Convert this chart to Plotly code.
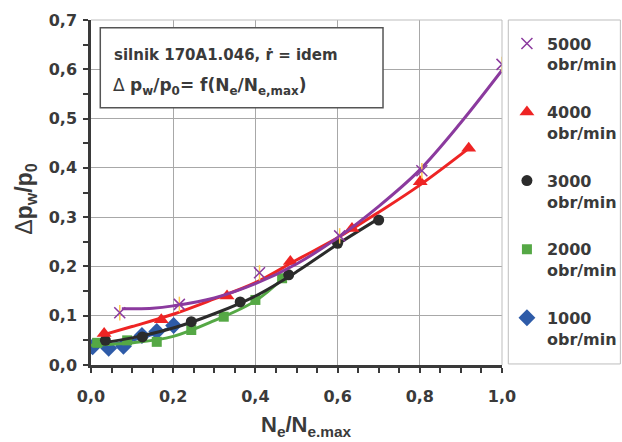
import plotly.graph_objects as go

# ---- data ----
x5000 = [0.07, 0.215, 0.41, 0.605, 0.805, 1.0]
y5000 = [0.106, 0.123, 0.187, 0.262, 0.394, 0.61]
x4000 = [0.032, 0.171, 0.331, 0.485, 0.635, 0.801, 0.919]
y4000 = [0.064, 0.092, 0.140, 0.210, 0.277, 0.372, 0.440]
x3000 = [0.035, 0.125, 0.244, 0.363, 0.481, 0.600, 0.700]
y3000 = [0.050, 0.057, 0.088, 0.128, 0.183, 0.247, 0.294]
x2000 = [0.015, 0.088, 0.160, 0.244, 0.323, 0.400, 0.465]
y2000 = [0.045, 0.050, 0.047, 0.071, 0.098, 0.132, 0.176]
x1000 = [0.004, 0.043, 0.079, 0.124, 0.160, 0.201]
y1000 = [0.037, 0.034, 0.038, 0.060, 0.068, 0.080]

# trend curves
tx5000 = [0.075, 0.1, 0.15, 0.2, 0.3, 0.4, 0.5, 0.6, 0.7, 0.8, 0.9, 1.0]
ty5000 = [0.114, 0.114, 0.115, 0.12, 0.136, 0.165, 0.205, 0.258, 0.322, 0.396, 0.492, 0.598]
tx4000 = [0.025, 0.1, 0.2, 0.3, 0.4, 0.5, 0.6, 0.7, 0.8, 0.92]
ty4000 = [0.060, 0.078, 0.103, 0.134, 0.167, 0.213, 0.258, 0.310, 0.365, 0.440]
tx3000 = [0.03, 0.1, 0.2, 0.3, 0.4, 0.5, 0.6, 0.7]
ty3000 = [0.045, 0.055, 0.075, 0.104, 0.140, 0.189, 0.245, 0.297]
tx2000 = [0.0, 0.1, 0.2, 0.3, 0.4, 0.47]
ty2000 = [0.040, 0.045, 0.058, 0.090, 0.130, 0.178]
tx1000 = [0.0, 0.05, 0.1, 0.15, 0.2]
ty1000 = [0.040, 0.042, 0.050, 0.062, 0.078]

names = ["<b>5000<br>obr/min</b>", "<b>4000<br>obr/min</b>", "<b>3000<br>obr/min</b>",
         "<b>2000<br>obr/min</b>", "<b>1000<br>obr/min</b>"]
colors = ["#8B3A9E", "#EE2424", "#2B2B2B", "#55A845", "#2E5BA8"]
symbols = ["x-thin-open", "triangle-up", "circle", "square", "diamond"]
sizes = [11, 13, 11, 10, 13]

series = [(x5000, y5000, tx5000, ty5000), (x4000, y4000, tx4000, ty4000),
          (x3000, y3000, tx3000, ty3000), (x2000, y2000, tx2000, ty2000),
          (x1000, y1000, tx1000, ty1000)]

FONT = "Arial, 'Liberation Sans', sans-serif"
WFONT = "'DejaVu Sans', Verdana, sans-serif"
TXT = "#3A3A3A"

fig = go.Figure()
for i in reversed(range(5)):
    mx, my, lx, ly = series[i]
    fig.add_trace(go.Scatter(x=lx, y=ly, mode="lines", line=dict(color=colors[i], width=3, shape="spline"),
                             showlegend=False, hoverinfo="skip"))
    if i == 0:
        fig.add_trace(go.Scatter(x=mx, y=my, mode="markers", showlegend=False,
                                 marker=dict(symbol="line-ns-open", size=11, line=dict(color=colors[i], width=1.5))))
    mk = dict(symbol=symbols[i], size=sizes[i], color=colors[i])
    if i == 0:
        mk["line"] = dict(color=colors[i], width=1.5)
    fig.add_trace(go.Scatter(x=mx, y=my, mode="markers", name=names[i], marker=mk,
                             legendgroup=str(i), legendrank=i + 1))

fig.update_layout(
    width=622, height=442,
    margin=dict(l=91, r=120, t=20, b=77, autoexpand=False),
    paper_bgcolor="white", plot_bgcolor="white",
    separators=", ",
    font=dict(family=FONT, color=TXT),
    showlegend=True,
    legend=dict(x=0.815, xref="container", xanchor="left", y=0.94, yref="container", yanchor="top",
                font=dict(family=WFONT, size=16, color=TXT),
                borderwidth=0, bgcolor="rgba(0,0,0,0)",
                valign="top", traceorder="grouped", tracegroupgap=24,
                itemwidth=30, maxheight=430),
    xaxis=dict(range=[0, 1.0], dtick=0.2, tickformat=".1f", showgrid=True, gridcolor="#A8A8A8", gridwidth=1,
               showline=True, linecolor="#3A3A3A", linewidth=2.5, ticks="outside", ticklen=5, tickwidth=2,
               tickcolor="#3A3A3A", zeroline=False,
               tickfont=dict(family=WFONT, size=16, color=TXT, weight="bold"), ticklabelstandoff=10,
               minor=dict(dtick=0.05, ticks="outside", ticklen=5, tickwidth=2, tickcolor="#3A3A3A", showgrid=False)),
    yaxis=dict(range=[0, 0.7], dtick=0.1, tickformat=".1f", showgrid=True, gridcolor="#A8A8A8", gridwidth=1,
               showline=True, linecolor="#3A3A3A", linewidth=2.5, ticks="outside", ticklen=5, tickwidth=2,
               tickcolor="#3A3A3A", zeroline=False,
               tickfont=dict(family=WFONT, size=16, color=TXT, weight="bold"), ticklabelstandoff=3,
               minor=dict(dtick=0.05, ticks="outside", ticklen=5, tickwidth=2, tickcolor="#3A3A3A", showgrid=False)),
)

# plot frame top/right
fig.add_shape(type="line", xref="paper", yref="paper", x0=0, x1=1, y0=1, y1=1, line=dict(color="#BDBDBD", width=1))
fig.add_shape(type="line", xref="paper", yref="paper", x0=1, x1=1, y0=0, y1=1, line=dict(color="#BDBDBD", width=1))
# legend frame
fig.add_shape(type="rect", xref="paper", yref="paper", x0=1.0153, x1=1.288, y0=0.003, y1=1.0,
              line=dict(color="#BDBDBD", width=1), fillcolor="rgba(0,0,0,0)")

# info box
fig.add_shape(type="rect", xref="paper", yref="paper", x0=0.0226, x1=0.7105, y0=0.7458, y1=0.9777,
              line=dict(color="#555555", width=1.5), fillcolor="white", layer="above")
fig.add_annotation(xref="paper", yref="paper", x=0.052, y=0.899, xanchor="left", yanchor="middle",
                   text="<b>silnik 170A1.046, ṙ = idem</b>", showarrow=False,
                   font=dict(family=WFONT, size=15, color=TXT))
fig.add_annotation(xref="paper", yref="paper", x=0.048, y=0.806, xanchor="left", yanchor="middle",
                   text="Δ <b>p<sub>w</sub>/p<sub>0</sub>= f(N<sub>e</sub>/N<sub>e,max</sub>)</b>", showarrow=False,
                   font=dict(family=WFONT, size=17, color=TXT))

# axis titles
fig.add_annotation(xref="paper", yref="paper", x=0.524, y=-0.178, xanchor="center", yanchor="middle",
                   text="<b>N<sub>e</sub>/N<sub>e.max</sub></b>", showarrow=False,
                   font=dict(family=FONT, size=22, color=TXT))
fig.add_annotation(xref="paper", yref="paper", x=-0.16, y=0.48, xanchor="center", yanchor="middle",
                   textangle=-90, text="Δ<b>p<sub>w</sub>/p<sub>0</sub></b>", showarrow=False,
                   font=dict(family=FONT, size=23, color=TXT))

fig.write_html("out.html")
